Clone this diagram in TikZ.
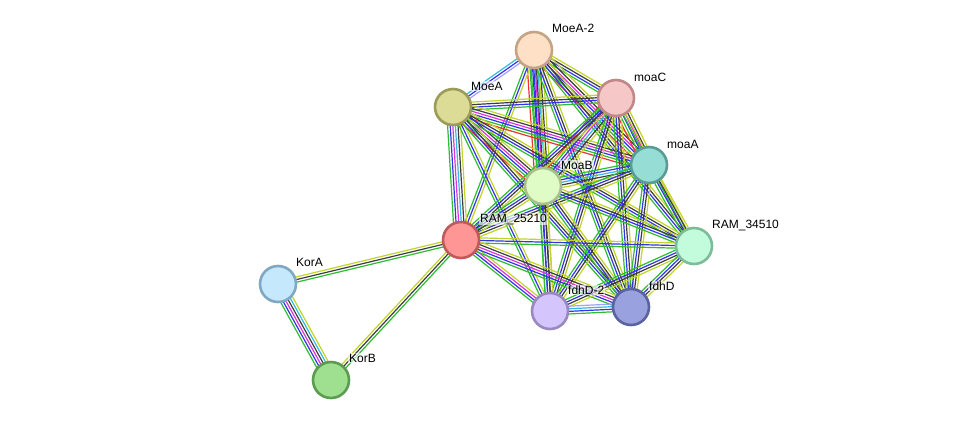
\documentclass[tikz,border=0pt]{standalone}
\usepackage{fontspec}
\setmainfont{Liberation Sans}
\usetikzlibrary{calc,backgrounds}
\definecolor{eG}{HTML}{2DBE2D}
\definecolor{eB}{HTML}{3333EE}
\definecolor{eK}{HTML}{3D3D3D}
\definecolor{eM}{HTML}{DD33DD}
\definecolor{eC}{HTML}{33BBDD}
\definecolor{eY}{HTML}{C2D429}
\definecolor{eR}{HTML}{EE3333}
\definecolor{eH}{HTML}{A0A0FF}
\tikzset{
  prot/.style={circle,minimum size=36pt,inner sep=0pt,line width=2.6pt},
  plabel/.style={anchor=west,font=\fontsize{12}{14}\selectfont,inner sep=1pt,fill=white,fill opacity=0.6,text opacity=1},
  eline/.style={line width=1.2pt},
}
\newcommand\edgeset[3]{%
  \foreach \c [count=\i] in {#3} {\xdef\ncount{\i}}%
  \foreach \c [count=\i] in {#3} {%
    \pgfmathsetmacro\off{(\i-(\ncount+1)/2)*2.6}%
    \draw[eline,draw=e\c] ($(#1)!\off pt!90:(#2)$) -- ($(#2)!\off pt!-90:(#1)$);
  }%
}
\begin{document}
\begin{tikzpicture}[x=1pt,y=-1pt]
\useasboundingbox (0,0) rectangle (976,426);
% nodes
\node[prot,fill={rgb,255:red,253;green,224;blue,197},draw={rgb,255:red,196;green,164;blue,132}] (m2) at (534,50) {};
\node[prot,fill={rgb,255:red,246;green,199;blue,199},draw={rgb,255:red,192;green,136;blue,136}] (mc) at (616,98) {};
\node[prot,fill={rgb,255:red,220;green,220;blue,150},draw={rgb,255:red,156;green,156;blue,90}] (me) at (453,107) {};
\node[prot,fill={rgb,255:red,150;green,221;blue,213},draw={rgb,255:red,90;green,156;blue,148}] (ma) at (649,165) {};
\node[prot,fill={rgb,255:red,224;green,252;blue,198},draw={rgb,255:red,168;green,192;blue,140}] (mb) at (543,186) {};
\node[prot,fill={rgb,255:red,255;green,150;blue,150},draw={rgb,255:red,192;green,90;blue,90}] (r25) at (461,240) {};
\node[prot,fill={rgb,255:red,194;green,252;blue,220},draw={rgb,255:red,124;green,188;blue,152}] (r34) at (694,246) {};
\node[prot,fill={rgb,255:red,197;green,232;blue,253},draw={rgb,255:red,128;green,168;blue,192}] (ka) at (278,284) {};
\node[prot,fill={rgb,255:red,212;green,197;blue,252},draw={rgb,255:red,154;green,136;blue,192}] (f2) at (550,311) {};
\node[prot,fill={rgb,255:red,153;green,162;blue,222},draw={rgb,255:red,90;green,98;blue,160}] (fd) at (631,307) {};
\node[prot,fill={rgb,255:red,159;green,223;blue,144},draw={rgb,255:red,92;green,156;blue,80}] (kb) at (331,380) {};
% labels
\node[plabel] (l1) at (551,28) {MoeA-2};
\node[plabel] (l2) at (633,77) {moaC};
\node[plabel] (l3) at (470,86) {MoeA};
\node[plabel] (l4) at (666,144) {moaA};
\node[plabel] (l5) at (560,165) {MoaB};
\node[plabel] (l6) at (479,219) {RAM\_25210};
\node[plabel] (l7) at (711,225) {RAM\_34510};
\node[plabel] (l8) at (295,262) {KorA};
\node[plabel] (l9) at (567,290) {fdhD-2};
\node[plabel] (l10) at (648,286) {fdhD};
\node[plabel] (l11) at (348,358) {KorB};
\begin{scope}[on background layer]
\fill[white] (0,0) rectangle (976,426);
\edgeset{ka}{kb}{G,B,M,K,C,Y}
\edgeset{ka}{r25}{G,K,Y}
\edgeset{kb}{r25}{G,K,Y}
\edgeset{m2}{mc}{G,B,K,Y}
\edgeset{me}{m2}{H,B,C}
\edgeset{m2}{ma}{R,G,B,M,K,Y}
\edgeset{m2}{mb}{R,G,B,M,C,K,Y}
\edgeset{m2}{r25}{G,B,Y}
\edgeset{m2}{r34}{G,B,K,Y}
\edgeset{m2}{f2}{G,B,K,Y}
\edgeset{m2}{fd}{G,B,K,Y}
\edgeset{me}{mc}{G,B,K,Y}
\edgeset{me}{ma}{R,G,B,M,K,Y}
\edgeset{me}{mb}{R,G,B,M,K,Y}
\edgeset{me}{r25}{G,B,M,C,K,Y}
\edgeset{me}{r34}{G,B,K,Y}
\edgeset{me}{f2}{G,B,Y}
\edgeset{me}{fd}{G,B,K,Y}
\edgeset{mc}{ma}{R,G,B,M,K,Y}
\edgeset{mc}{mb}{R,G,B,M,C,K,Y}
\edgeset{mc}{r25}{G,B,K,Y}
\edgeset{mc}{r34}{G,Y}
\edgeset{mc}{f2}{G,B,K,Y}
\edgeset{mc}{fd}{G,B,K,Y}
\edgeset{ma}{mb}{G,B,C,K,Y}
\edgeset{ma}{r25}{G,B,K,Y}
\edgeset{ma}{r34}{G,B,K,Y}
\edgeset{ma}{f2}{G,B,K,Y}
\edgeset{ma}{fd}{G,B,K,Y}
\edgeset{mb}{r25}{G,B,K,Y}
\edgeset{mb}{r34}{G,B,K,Y}
\edgeset{mb}{f2}{G,B,K,Y}
\edgeset{mb}{fd}{G,B,K,Y}
\edgeset{r25}{r34}{G,B,Y}
\edgeset{r25}{f2}{G,B,M,Y}
\edgeset{r25}{fd}{G,B,M,K,Y}
\edgeset{r34}{f2}{G,B,K,Y}
\edgeset{r34}{fd}{G,B,K,Y}
\edgeset{f2}{fd}{G,B,C,H}
\end{scope}
\end{tikzpicture}
\end{document}
